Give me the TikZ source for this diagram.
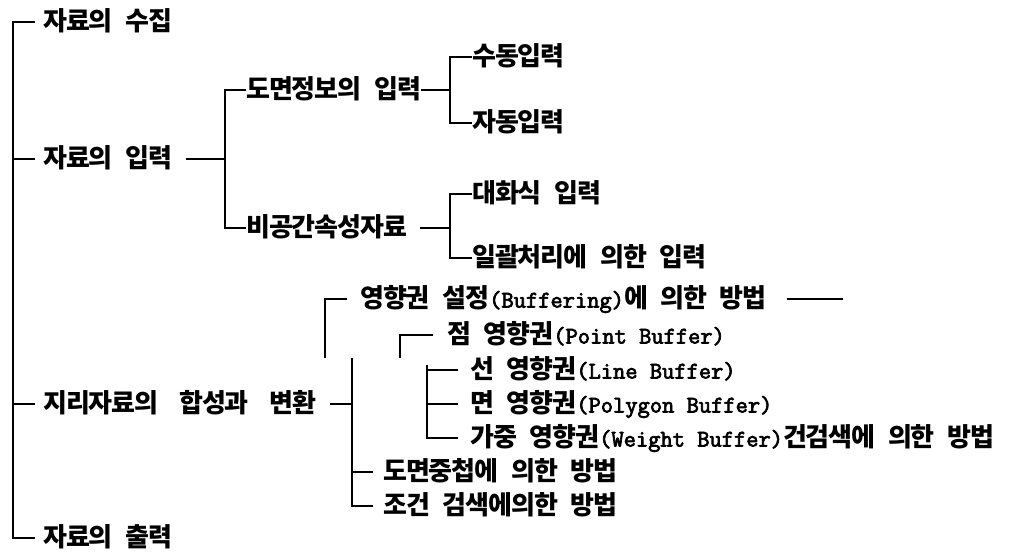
\documentclass[tikz,border=0pt]{standalone}
\usepackage{fontspec}
\setmainfont{Noto Sans CJK KR}[LetterSpace=-4]
\newfontfamily\latmono{Latin Modern Mono}[FakeBold=3]
\newcommand\krfont{\fontsize{26}{30}\selectfont\bfseries\fontdimen2\font=12.5pt\fontdimen3\font=0pt\fontdimen4\font=0pt\relax}
\newcommand\latpart[1]{{\latmono\fontsize{23.8}{30}\selectfont #1}}
\tikzset{
  lbl/.style={anchor=west, inner sep=0pt, font=\krfont, text height=19pt, text depth=2pt},
  ln/.style={line width=2.2pt}
}
\begin{document}
\begin{tikzpicture}[x=1pt,y=-1pt]
\useasboundingbox (0,0) rectangle (1019,553);
% texts
\node[lbl] (t1) at (43,22) {자료의 수집};
\node[lbl] (t2) at (43,159) {자료의 입력};
\node[lbl] (t21) at (246,90) {도면정보의 입력};
\node[lbl] (t211) at (472,57) {수동입력};
\node[lbl] (t212) at (472,123) {자동입력};
\node[lbl] (t22) at (246,228) {비공간속성자료};
\node[lbl] (t221) at (472,194) {대화식 입력};
\node[lbl] (t222) at (472,258) {일괄처리에 의한 입력};
\node[lbl] (t3) at (43,404) {지리자료의\kern8pt{} 합성과\kern8pt{} 변환};
\node[lbl] (t31) at (360,299) {영향권 설정\latpart{(Buffering)}에 의한 방법};
\node[lbl] (t311) at (447,335) {점 영향권\latpart{(Point Buffer)}};
\node[lbl] (t312) at (470,370) {선 영향권\latpart{(Line Buffer)}};
\node[lbl] (t313) at (470,404) {면 영향권\latpart{(Polygon Buffer)}};
\node[lbl] (t314) at (470,438) {가중 영향권\latpart{(Weight Buffer)}건검색에 의한 방법};
\node[lbl] (t32) at (383,472) {도면중첩에 의한 방법};
\node[lbl] (t33) at (383,506) {조건 검색에의한 방법};
\node[lbl] (t4) at (43,538) {자료의 출력};
% junction coordinates
\coordinate (trunk) at (13,0);
\coordinate (j2) at (225,0);
\coordinate (j21) at (450,0);
\coordinate (j3) at (352,358);
\coordinate (b31) at (325,358);
\coordinate (b311) at (400,358);
\coordinate (j31) at (427,365);
\coordinate (d31) at (843,299);
% connectors
\draw[ln] ([xshift=-8pt]t1.west) -| (trunk |- t4.west) -- ([xshift=-8pt]t4.west);
\draw[ln] ([xshift=-8pt]t2.west) -- (trunk |- t2.west);
\draw[ln] ([xshift=-8pt]t3.west) -- (trunk |- t3.west);
\draw[ln] ([xshift=14pt]t2.east) -- (j2 |- t2.east);
\draw[ln] (t21.west) -| (j2 |- t22.west) -- (t22.west);
\draw[ln] (t21.east) -- (j21 |- t21.east);
\draw[ln] (t211.west) -| (j21 |- t212.west) -- (t212.west);
\draw[ln] ([xshift=12pt]t22.east) -- (j21 |- t22.east);
\draw[ln] (t221.west) -| (j21 |- t222.west) -- (t222.west);
\draw[ln] ([xshift=14pt]t3.east) -- (j3 |- t3.east);
\draw[ln] (j3) |- ([xshift=-10pt]t33.west);
\draw[ln] ([xshift=-10pt]t32.west) -- (j3 |- t32.west);
\draw[ln] (b31) |- ([xshift=-13pt]t31.west);
\draw[ln] ([xshift=20pt]t31.east) -- (d31);
\draw[ln] (b311) |- ([xshift=-14pt]t311.west);
\draw[ln] (j31) |- ([xshift=-12pt]t314.west);
\draw[ln] ([xshift=-12pt]t312.west) -- (j31 |- t312.west);
\draw[ln] ([xshift=-12pt]t313.west) -- (j31 |- t313.west);
\end{tikzpicture}
\end{document}
